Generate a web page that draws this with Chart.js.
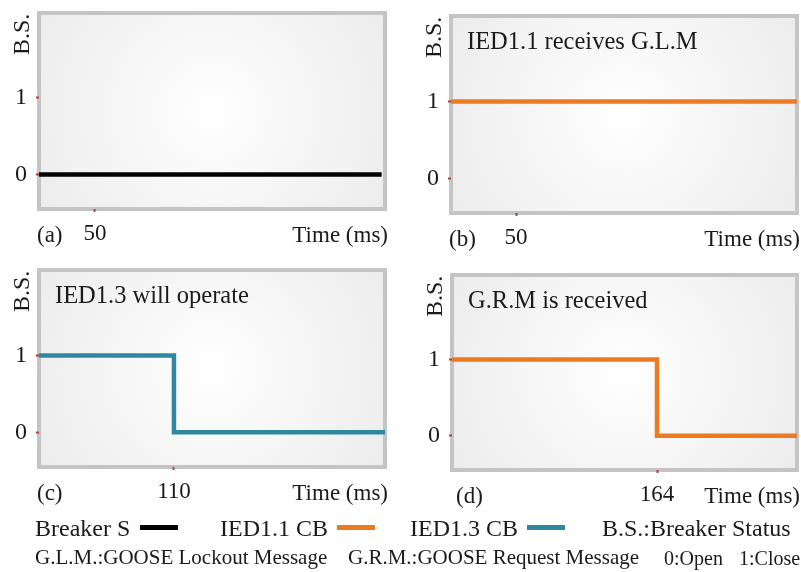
<!DOCTYPE html>
<html>
<head>
<meta charset="utf-8">
<script src="https://cdn.jsdelivr.net/npm/chart.js@4.4.1/dist/chart.umd.min.js"></script>
<style>
  body { margin: 0; background: #fff; }
  #wrap { position: relative; width: 801px; height: 572px; overflow: hidden;
          font-family: "Liberation Serif", "Times New Roman", serif; color: #1a1a1a; }
  canvas { position: absolute; left: 0; top: 0; }
  .lbl { position: absolute; white-space: nowrap; line-height: 1; }
  .row1 { font-size: 24px; top: 516px; }
  .row2 { font-size: 21px; top: 547px; }
  .row2s { font-size: 20px; top: 548px; }
  .sw { position: absolute; top: 525px; width: 38px; height: 5px; }
</style>
</head>
<body>
<div id="wrap">
  <canvas id="chartA" width="801" height="572"></canvas>
  <canvas id="chartB" width="801" height="572"></canvas>
  <canvas id="chartC" width="801" height="572"></canvas>
  <canvas id="chartD" width="801" height="572"></canvas>

  <div class="lbl row1" style="left:35px">Breaker S</div>
  <div class="sw" style="left:140px;background:#000"></div>
  <div class="lbl row1" style="left:220px">IED1.1 CB</div>
  <div class="sw" style="left:337px;background:#eb7a23"></div>
  <div class="lbl row1" style="left:410px">IED1.3 CB</div>
  <div class="sw" style="left:527px;background:#2e88a0"></div>
  <div class="lbl row1" style="left:602px">B.S.:Breaker Status</div>

  <div class="lbl row2" style="left:35px">G.L.M.:GOOSE Lockout Message</div>
  <div class="lbl row2" style="left:348px">G.R.M.:GOOSE Request Message</div>
  <div class="lbl row2s" style="left:664px">0:Open</div>
  <div class="lbl row2s" style="left:739px">1:Close</div>
</div>
<script>
// breaker status over time (ms), 1 = close, 0 = open
const breakerTime = [0, 306];
const breakerStatus = [0, 0];
const ied11Time = [0, 266];
const ied11Status = [1, 1];
const ied13Time = [0, 110, 282];
const ied13Status = [1, 0, 0];
const grmTime = [0, 164, 276];
const grmStatus = [1, 0, 0];

const yTicks = [0, 1];
const xTicksA = [50];
const xTicksB = [50];
const xTicksC = [110];
const xTicksD = [164];

const W = 801, H = 572;
const serif = '"Liberation Serif", "Times New Roman", serif';

// background, frame and the text around each panel
const deco = {
  id: 'deco',
  beforeDraw(chart, args, opts) {
    const { ctx, chartArea: a } = chart;
    const cx = (a.left + a.right) / 2, cy = (a.top + a.bottom) / 2;
    const g = ctx.createRadialGradient(cx, cy, 0, cx, cy, Math.hypot(a.width, a.height) / 2);
    g.addColorStop(0, '#ffffff');
    g.addColorStop(1, '#ececec');
    ctx.save();
    ctx.fillStyle = g;
    ctx.fillRect(a.left, a.top, a.width, a.height);
    ctx.strokeStyle = '#c4c4c4';
    ctx.lineWidth = 4;
    ctx.strokeRect(a.left, a.top, a.width, a.height);

    ctx.fillStyle = '#1a1a1a';
    ctx.textBaseline = 'alphabetic';
    ctx.font = '23px ' + serif;
    ctx.textAlign = 'left';
    ctx.fillText(opts.letter, a.left - 2 + (opts.letterDx || 0), a.bottom + 33);
    ctx.textAlign = 'right';
    ctx.fillText('Time (ms)', a.right + 3, a.bottom + 33);

    ctx.font = '24.5px ' + serif;
    ctx.textAlign = 'left';
    if (opts.note) ctx.fillText(opts.note, a.left + 16, a.top + 33);

    ctx.font = '24px ' + serif;
    ctx.translate(a.left - 10, a.top + 42);
    ctx.rotate(-Math.PI / 2);
    ctx.fillText('B.S.', 0, 0);
    ctx.restore();
  }
};

function makePanel(id, times, status, color, xTicks, xMax, area, extra) {
  const tickFont = { family: serif, size: 24 };
  const grid = { display: true, drawOnChartArea: false, drawTicks: true,
                 tickLength: 3, tickWidth: 2, tickColor: '#b0403a' };
  return new Chart(document.getElementById(id), {
    type: 'line',
    data: {
      datasets: [{
        data: times.map((t, i) => ({ x: t, y: status[i] })),
        borderColor: color,
        borderWidth: 4.5,
        stepped: 'before',
        pointRadius: 0,
        borderJoinStyle: 'miter',
        borderCapStyle: 'butt',
        fill: false
      }]
    },
    options: {
      responsive: false,
      animation: false,
      events: [],
      layout: { padding: { left: 0, top: area[1], right: W - area[2], bottom: 0 } },
      plugins: { legend: { display: false }, tooltip: { enabled: false }, deco: extra },
      scales: {
        x: {
          type: 'linear', min: 0, max: xMax,
          afterBuildTicks: s => { s.ticks = xTicks.map(v => ({ value: v })); },
          afterFit: s => { s.height = H - area[3]; s.paddingLeft = 0; s.paddingRight = 0; },
          grid: grid,
          border: { display: false },
          ticks: { font: { family: serif, size: 23 }, color: '#1a1a1a', padding: 8, maxRotation: 0, autoSkip: false }
        },
        y: {
          type: 'linear', min: -0.45, max: 2.11,
          afterBuildTicks: s => { s.ticks = yTicks.map(v => ({ value: v })); },
          afterFit: s => { s.width = area[0]; s.paddingTop = 0; s.paddingBottom = 0; },
          grid: grid,
          border: { display: false },
          ticks: { font: tickFont, color: '#1a1a1a', padding: 9 }
        }
      }
    },
    plugins: [deco]
  });
}

makePanel('chartA', breakerTime, breakerStatus, '#000000', xTicksA, 309, [39, 13, 385, 209], { letter: '(a)' });
makePanel('chartB', ied11Time, ied11Status, '#eb7a23', xTicksB, 266, [451, 16, 797, 213], { letter: '(b)', note: 'IED1.1 receives G.L.M' });
makePanel('chartC', ied13Time, ied13Status, '#2e88a0', xTicksC, 282, [39, 270, 385, 467], { letter: '(c)', note: 'IED1.3 will operate' });
makePanel('chartD', grmTime, grmStatus, '#eb7a23', xTicksD, 276, [452, 275, 797, 470], { letter: '(d)', letterDx: 6, note: 'G.R.M is received' });
</script>
</body>
</html>
